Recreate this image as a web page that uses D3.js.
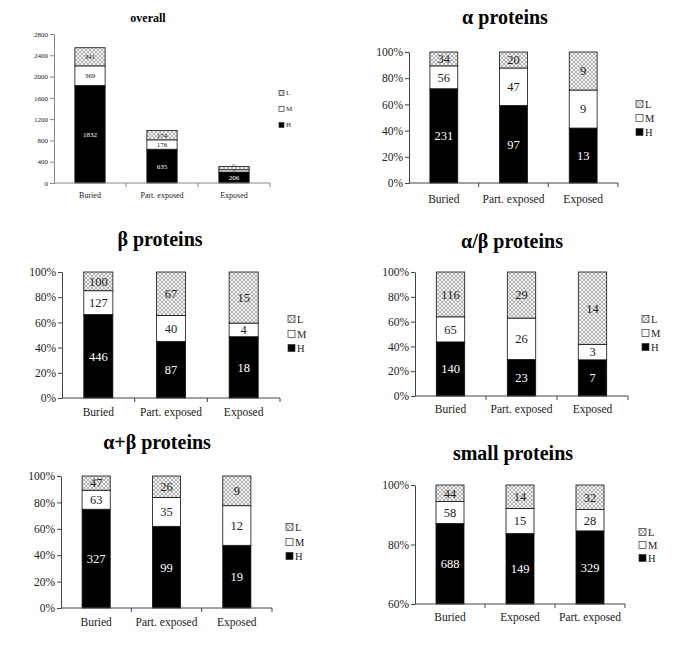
<!DOCTYPE html>
<html>
<head>
<meta charset="utf-8">
<script src="https://cdn.jsdelivr.net/npm/d3@7"></script>
<style>
  body { margin: 0; background: #fff; }
  svg, svg text { font-family: "Liberation Serif", "Times New Roman", serif; }
</style>
</head>
<body>
<svg id="chart" width="685" height="649"></svg>
<script>
// categories
const categories = ["Buried", "Part. exposed", "Exposed"];
const smallCategories = ["Buried", "Exposed", "Part. exposed"];
const levels = ["H", "M", "L"];

// counts per category (H, M, L)
const overallH = [1832, 635, 206];
const overallM = [369, 176, 43];
const overallL = [341, 174, 61];

const alphaH = [231, 97, 13];
const alphaM = [56, 47, 9];
const alphaL = [34, 20, 9];

const betaH = [446, 87, 18];
const betaM = [127, 40, 4];
const betaL = [100, 67, 15];

const abH = [140, 23, 7];
const abM = [65, 26, 3];
const abL = [116, 29, 14];

const apbH = [327, 99, 19];
const apbM = [63, 35, 12];
const apbL = [47, 26, 9];

const smallH = [688, 149, 329];
const smallM = [58, 15, 28];
const smallL = [44, 14, 32];

// tick values
const overallTicks = [0, 400, 800, 1200, 1600, 2000, 2400, 2800];
const pctTicks = [0, 0.2, 0.4, 0.6, 0.8, 1];
const smallTicks = [0.6, 0.8, 1];

const FONT = "Liberation Serif, Times New Roman, serif";
const svg = d3.select("#chart").attr("font-family", FONT);

// crosshatch pattern for the L segments
const defs = svg.append("defs");
const pat = defs.append("pattern")
  .attr("id", "hatch")
  .attr("patternUnits", "userSpaceOnUse")
  .attr("width", 4).attr("height", 4);
pat.append("rect").attr("width", 4).attr("height", 4).attr("fill", "#f2f2f2");
pat.append("path").attr("d", "M0,0L4,4M4,0L0,4")
  .attr("stroke", "#9a9a9a").attr("stroke-width", 0.7);

const fills = { H: "#000", M: "#fff", L: "url(#hatch)" };

function rows(cats, h, m, l) {
  return cats.map((c, i) => ({ cat: c, H: h[i], M: m[i], L: l[i] }));
}

function drawPanel(p) {
  const g = svg.append("g").attr("font-family", FONT);
  const data = rows(p.cats, p.h, p.m, p.l);

  const stack = d3.stack().keys(levels)
    .offset(p.percent ? d3.stackOffsetExpand : d3.stackOffsetNone);
  const series = stack(data);

  const x = d3.scaleBand().domain(p.cats).range([p.x0, p.x1]);
  const y = d3.scaleLinear().domain(p.domain).range([p.yBot, p.yTop]).clamp(true);
  const bw = x.bandwidth() * p.barFrac;

  // title
  g.append("text")
    .attr("x", p.titleX).attr("y", p.titleY)
    .attr("text-anchor", "middle")
    .attr("font-weight", "bold")
    .attr("font-size", p.titleSize)
    .text(p.title);

  // bars
  series.forEach(s => {
    const key = s.key;
    g.selectAll(null).data(s).enter().append("rect")
      .attr("x", d => x(d.data.cat) + (x.bandwidth() - bw) / 2)
      .attr("y", d => y(d[1]))
      .attr("width", bw)
      .attr("height", d => y(d[0]) - y(d[1]))
      .attr("fill", fills[key])
      .attr("stroke", "#111")
      .attr("stroke-width", 0.8);

    // labels; very thin segments get a tiny font so they don't collide
    const thin = d => (y(d[0]) - y(d[1])) < p.labelSize * 0.8;
    g.selectAll(null).data(s).enter().append("text")
      .attr("x", d => x(d.data.cat) + x.bandwidth() / 2)
      .attr("y", d => {
        const mid = (y(d[0]) + y(d[1])) / 2;
        if (!thin(d)) return mid;
        return key === "L" ? y(d[1]) - 0.5 : mid + 1;
      })
      .attr("dy", "0.35em")
      .attr("text-anchor", "middle")
      .attr("font-size", d => thin(d) ? 4 : p.labelSize)
      .attr("fill", key === "H" ? "#fff" : "#222")
      .text(d => d.data[key]);
  });

  // y axis
  const yAxis = d3.axisLeft(y).tickValues(p.ticks).tickSize(4).tickSizeOuter(0)
    .tickFormat(p.percent ? d3.format(".0%") : d3.format("d"));
  const ya = g.append("g").attr("transform", `translate(${p.x0},0)`).call(yAxis)
    .attr("font-family", FONT);
  ya.select(".domain").attr("stroke", p.axisColor);
  ya.selectAll(".tick line").attr("stroke", p.axisColor);
  ya.selectAll(".tick text")
    .attr("font-family", FONT)
    .attr("font-size", p.tickSize).attr("fill", "#222").attr("x", -6);

  // x axis: line with boundary ticks
  g.append("line")
    .attr("x1", p.x0).attr("x2", p.x1)
    .attr("y1", p.yBot).attr("y2", p.yBot)
    .attr("stroke", p.axisColor);
  const bounds = p.cats.slice(1).map(c => x(c)).concat([p.x1]);
  g.selectAll(null).data(bounds).enter().append("line")
    .attr("x1", d => d).attr("x2", d => d)
    .attr("y1", p.yBot).attr("y2", p.yBot + 4)
    .attr("stroke", p.axisColor);
  g.selectAll(null).data(p.cats).enter().append("text")
    .attr("x", d => x(d) + x.bandwidth() / 2)
    .attr("y", p.catY)
    .attr("text-anchor", "middle")
    .attr("font-size", p.catSize)
    .attr("fill", "#222")
    .text(d => d);

  // legend (L, M, H top to bottom)
  const legendKeys = ["L", "M", "H"];
  const lg = g.selectAll(null).data(legendKeys).enter().append("g")
    .attr("transform", (d, i) => `translate(${p.legX},${p.legY[i]})`);
  lg.append("rect")
    .attr("x", 0).attr("y", -p.legSq / 2)
    .attr("width", p.legSq).attr("height", p.legSq)
    .attr("fill", d => fills[d])
    .attr("stroke", "#333").attr("stroke-width", 0.7);
  lg.append("text")
    .attr("x", p.legSq + 2).attr("dy", "0.35em")
    .attr("font-size", p.legSize)
    .attr("fill", "#222")
    .text(d => d);
}

const pctStyle = {
  percent: true, barFrac: 0.4, titleSize: 20, labelSize: 12.5,
  tickSize: 11.5, catSize: 11.5, legSq: 7, legSize: 10.5, axisColor: "#444"
};

drawPanel({
  title: "overall", cats: categories, h: overallH, m: overallM, l: overallL,
  percent: false, domain: [0, 2800], ticks: overallTicks,
  x0: 54, x1: 270, yTop: 34, yBot: 183, barFrac: 0.42,
  titleX: 148, titleY: 22, titleSize: 12, labelSize: 7, tickSize: 7, catSize: 8,
  catY: 198, legX: 279, legY: [93, 109, 125], legSq: 5, legSize: 7, axisColor: "#888"
});

drawPanel(Object.assign({}, pctStyle, {
  title: "α proteins", cats: categories, h: alphaH, m: alphaM, l: alphaL,
  domain: [0, 1], ticks: pctTicks,
  x0: 409, x1: 618, yTop: 52, yBot: 183,
  titleX: 505, titleY: 24, catY: 203, legX: 636, legY: [104, 118, 132]
}));

drawPanel(Object.assign({}, pctStyle, {
  title: "β proteins", cats: categories, h: betaH, m: betaM, l: betaL,
  domain: [0, 1], ticks: pctTicks,
  x0: 62, x1: 280, yTop: 272, yBot: 398,
  titleX: 160, titleY: 246, catY: 416, legX: 288, legY: [319, 334, 348]
}));

drawPanel(Object.assign({}, pctStyle, {
  title: "α/β proteins", cats: categories, h: abH, m: abM, l: abL,
  domain: [0, 1], ticks: pctTicks,
  x0: 415, x1: 628, yTop: 272, yBot: 396,
  titleX: 512, titleY: 248, catY: 413, legX: 642, legY: [319, 333, 347]
}));

drawPanel(Object.assign({}, pctStyle, {
  title: "α+β proteins", cats: categories, h: apbH, m: apbM, l: apbL,
  domain: [0, 1], ticks: pctTicks,
  x0: 61, x1: 272, yTop: 476, yBot: 608,
  titleX: 157, titleY: 449, catY: 626, legX: 286, legY: [527, 542, 556]
}));

drawPanel(Object.assign({}, pctStyle, {
  title: "small proteins", cats: smallCategories, h: smallH, m: smallM, l: smallL,
  domain: [0.6, 1], ticks: smallTicks,
  x0: 415, x1: 625, yTop: 485, yBot: 604,
  titleX: 513, titleY: 460, catY: 621, legX: 639, legY: [532, 545, 558]
}));
</script>
</body>
</html>
